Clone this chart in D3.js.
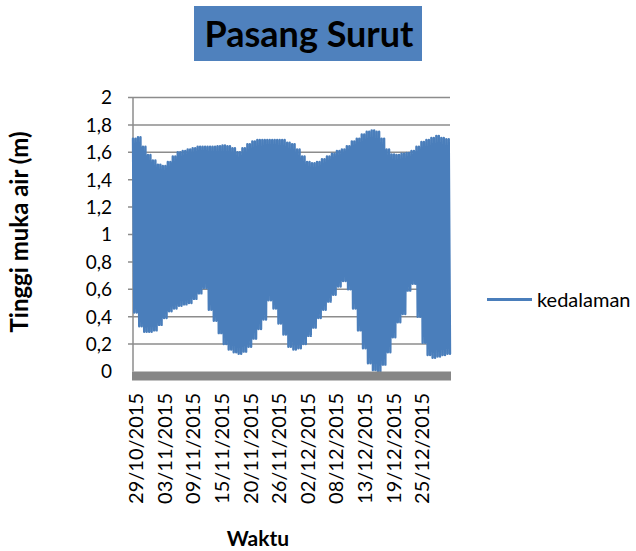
<!DOCTYPE html>
<html>
<head>
<meta charset="utf-8">
<script src="https://cdn.jsdelivr.net/npm/d3@7"></script>
<style>
  body { margin: 0; background: #fff; }
  text { font-family: Lato, "Open Sans", sans-serif; fill: #000; }
</style>
</head>
<body>
<svg id="chart" width="636" height="551"></svg>
<script>
// ── Data: daily high / low water level (m) ───────────────────────────────────
const dayHigh = [
  1.70, 1.71, 1.64, 1.58, 1.54, 1.51, 1.50, 1.53, 1.57, 1.60,
  1.61, 1.62, 1.63, 1.64, 1.64, 1.64, 1.64, 1.645, 1.65, 1.645,
  1.63, 1.60, 1.63, 1.66, 1.68, 1.69, 1.69, 1.69, 1.69, 1.69,
  1.69, 1.67, 1.66, 1.62, 1.57, 1.53, 1.52, 1.53, 1.55, 1.57,
  1.59, 1.61, 1.62, 1.645, 1.68, 1.70, 1.73, 1.75, 1.76, 1.75,
  1.70, 1.62, 1.585, 1.58, 1.59, 1.595, 1.61, 1.64, 1.675, 1.69,
  1.705, 1.72, 1.705, 1.695
];
const dayLow = [
  0.43, 0.33, 0.29, 0.29, 0.30, 0.34, 0.39, 0.44, 0.46, 0.48,
  0.49, 0.50, 0.53, 0.57, 0.61, 0.45, 0.37, 0.28, 0.20, 0.16,
  0.14, 0.13, 0.145, 0.18, 0.24, 0.31, 0.38, 0.52, 0.46, 0.35,
  0.27, 0.18, 0.16, 0.17, 0.20, 0.26, 0.32, 0.39, 0.45, 0.51,
  0.56, 0.62, 0.66, 0.60, 0.46, 0.30, 0.17, 0.06, 0.01, 0.00,
  0.05, 0.14, 0.25, 0.36, 0.42, 0.59, 0.64, 0.40, 0.21, 0.12,
  0.10, 0.11, 0.12, 0.13
];
const tickLabels = [
  "29/10/2015", "03/11/2015", "09/11/2015", "15/11/2015", "20/11/2015",
  "26/11/2015", "02/12/2015", "08/12/2015", "13/12/2015", "19/12/2015",
  "25/12/2015"
];
const yTicks = [0, 0.2, 0.4, 0.6, 0.8, 1, 1.2, 1.4, 1.6, 1.8, 2];
const seriesName = "kedalaman";

// semidiurnal tide: high / low / high / low every six hours of each day
const series = [];
dayHigh.forEach((h, i) => {
  series.push({ hour: i * 24,      v: h });
  series.push({ hour: i * 24 + 6,  v: dayLow[i] });
  series.push({ hour: i * 24 + 12, v: h });
  series.push({ hour: i * 24 + 18, v: dayLow[i] });
});

const BLUE = "#4A7EBB", GRID = "#8C8C8C";
const svg = d3.select("#chart");

const pLeft = 133, pRight = 450, pTop = 97.5, pBottom = 371.5;
const x = d3.scaleLinear().domain([0, d3.max(series, d => d.hour)]).range([pLeft, pRight]);
const y = d3.scaleLinear().domain([0, 2]).range([pBottom, pTop]);
const fmt = v => String(v).replace(".", ",");

// ── Title ───────────────────────────────────────────────────────────────────
svg.append("rect")
  .attr("x", 194).attr("y", 6).attr("width", 228).attr("height", 55)
  .attr("fill", "#4F81BD");
svg.append("text")
  .attr("x", 309).attr("y", 47).attr("text-anchor", "middle")
  .attr("font-size", 36).attr("font-weight", "bold")
  .text("Pasang Surut");

// ── Gridlines + y axis ──────────────────────────────────────────────────────
svg.append("g")
  .selectAll("line")
  .data(yTicks.filter(t => t > 0))
  .join("line")
  .attr("x1", pLeft - 5).attr("x2", pRight)
  .attr("y1", d => y(d)).attr("y2", d => y(d))
  .attr("stroke", GRID).attr("stroke-width", 1.5);

svg.append("line")
  .attr("x1", pLeft).attr("x2", pLeft).attr("y1", pTop).attr("y2", pBottom)
  .attr("stroke", GRID).attr("stroke-width", 1.5);

svg.append("g")
  .selectAll("text")
  .data(yTicks)
  .join("text")
  .attr("x", 112).attr("y", d => y(d)).attr("dy", "0.36em")
  .attr("text-anchor", "end").attr("font-size", 19)
  .text(fmt);

// ── Series ──────────────────────────────────────────────────────────────────
const line = d3.line().x(d => x(d.hour)).y(d => y(d.v));
svg.append("path")
  .datum(series)
  .attr("d", line)
  .attr("fill", "none")
  .attr("stroke", BLUE).attr("stroke-width", 2.4)
  .attr("stroke-linejoin", "round").attr("stroke-linecap", "round");

// thick grey category axis
svg.append("rect")
  .attr("x", pLeft - 1).attr("y", pBottom).attr("width", pRight - pLeft + 2).attr("height", 9)
  .attr("fill", "#868686");

// ── X labels ────────────────────────────────────────────────────────────────
const labelFirst = 15, labelEvery = 138;
svg.append("g")
  .selectAll("text")
  .data(tickLabels)
  .join("text")
  .attr("transform", (d, i) => `translate(${x(labelFirst + i * labelEvery)},393) rotate(-90)`)
  .attr("dy", "0.36em").attr("text-anchor", "end").attr("font-size", 20)
  .text(d => d);

// ── Axis titles ─────────────────────────────────────────────────────────────
svg.append("text")
  .attr("transform", "translate(28,232) rotate(-90)")
  .attr("text-anchor", "middle").attr("font-size", 24).attr("font-weight", "bold")
  .text("Tinggi muka air (m)");
svg.append("text")
  .attr("x", 258).attr("y", 546).attr("text-anchor", "middle")
  .attr("font-size", 21).attr("font-weight", "bold")
  .text("Waktu");

// ── Legend ──────────────────────────────────────────────────────────────────
const lg = svg.append("g").attr("transform", "translate(487,299.5)");
lg.append("line").attr("x1", 0).attr("x2", 45)
  .attr("stroke", BLUE).attr("stroke-width", 3);
lg.append("text").attr("x", 50).attr("dy", "0.36em").attr("font-size", 20)
  .text(seriesName);
</script>
</body>
</html>
